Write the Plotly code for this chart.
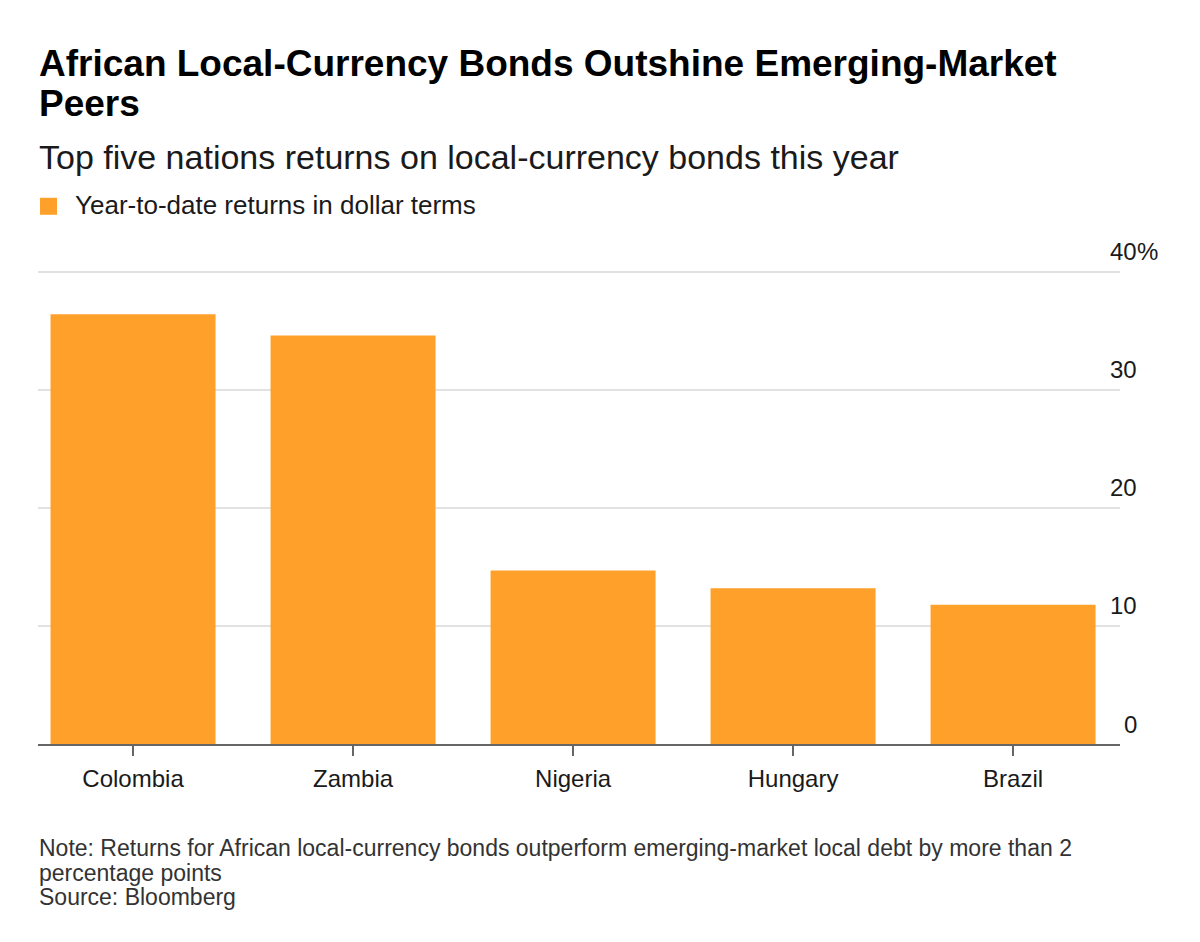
import plotly.graph_objects as go

categories = ["Colombia", "Zambia", "Nigeria", "Hungary", "Brazil"]
returns_ytd = [36.4, 34.6, 14.7, 13.2, 11.8]
y_ticks = [0, 10, 20, 30, 40]
y_tick_labels = ["0", "10", "20", "30", "40"]
series_name = "Year-to-date returns in dollar terms"
title_lines = ["African Local-Currency Bonds Outshine Emerging-Market", "Peers"]
subtitle = "Top five nations returns on local-currency bonds this year"
note_lines = [
    "Note: Returns for African local-currency bonds outperform emerging-market local debt by more than 2",
    "percentage points",
    "Source: Bloomberg",
]

# page body has an 8px margin; work in reference pixel coordinates and offset
OFF = 8
W, H = 1200 - OFF, 942 - OFF
X0, X1 = 38 - OFF, 1120 - OFF          # plot area left/right
Y_ZERO = 744 - OFF                      # pixel of value 0
PX_PER_UNIT = 11.8
Y_MAX = 41
Y_TOP = Y_ZERO - Y_MAX * PX_PER_UNIT
L, R, T, B = X0, W - X1, Y_TOP, H - Y_ZERO
PW, PH = W - L - R, H - T - B

def px_x(px):
    return (px - OFF - L) / PW

def px_y(py):
    return (H - B - (py - OFF)) / PH

FONT = "Liberation Sans, Arial, Helvetica, sans-serif"
ORANGE = "#FFA02A"
TXT = "#1a1a1a"

fig = go.Figure()
fig.add_trace(go.Bar(
    x=categories, y=returns_ytd, marker_color=ORANGE, marker_line_width=0,
    name=series_name, showlegend=False,
    hovertemplate="%{x}: %{y:.1f}%<extra></extra>",
))

ann = []
def text_line(txt, px, top_py, size, color=TXT, bold=False):
    ann.append(dict(text=f"<b>{txt}</b>" if bold else txt,
                    xref="paper", yref="paper", x=px_x(px), y=px_y(top_py),
                    xanchor="left", yanchor="top", align="left", showarrow=False,
                    font=dict(family=FONT, size=size, color=color)))

text_line(title_lines[0], 37, 41, 37, "#000000", bold=True)
text_line(title_lines[1], 37, 81, 37, "#000000", bold=True)
text_line(subtitle, 37, 136, 34, TXT)
text_line(series_name, 73, 188, 26, TXT)
for i, line in enumerate(note_lines):
    text_line(line, 37, 833 + i * 24.5, 23, "#333333")

for v, t in zip(y_ticks, y_tick_labels):
    ann.append(dict(text=t, xref="paper", yref="y", x=px_x(1139), y=v, xanchor="right", yanchor="middle",
                    yshift=20, showarrow=False, font=dict(family=FONT, size=24, color=TXT)))
ann.append(dict(text="%", xref="paper", yref="y", x=px_x(1135), y=y_ticks[-1], xanchor="left", yanchor="middle",
                yshift=20, showarrow=False, font=dict(family=FONT, size=24, color=TXT)))

shapes = [dict(type="rect", xref="paper", yref="paper",
               x0=px_x(40), x1=px_x(57), y0=px_y(198), y1=px_y(215),
               fillcolor=ORANGE, line=dict(width=0))]

fig.update_layout(
    width=W, height=H,
    margin=dict(l=L, r=R, t=T, b=B, pad=0),
    paper_bgcolor="white", plot_bgcolor="white",
    bargap=0.25,
    font=dict(family=FONT, size=24, color=TXT),
    showlegend=False,
    annotations=ann,
    shapes=shapes,
    xaxis=dict(range=[-0.432, 4.486], showgrid=False, showline=True, linecolor="#666666", linewidth=2,
               ticks="outside", ticklen=10, tickwidth=2, tickcolor="#666666", ticklabelstandoff=2,
               tickfont=dict(family=FONT, size=24, color=TXT), fixedrange=True),
    yaxis=dict(range=[0, Y_MAX], tickvals=y_ticks, showticklabels=False, showgrid=True,
               gridcolor="#e2e2e2", gridwidth=2, zeroline=False, showline=False, ticks="", fixedrange=True),
)

fig.write_html("out.html")
